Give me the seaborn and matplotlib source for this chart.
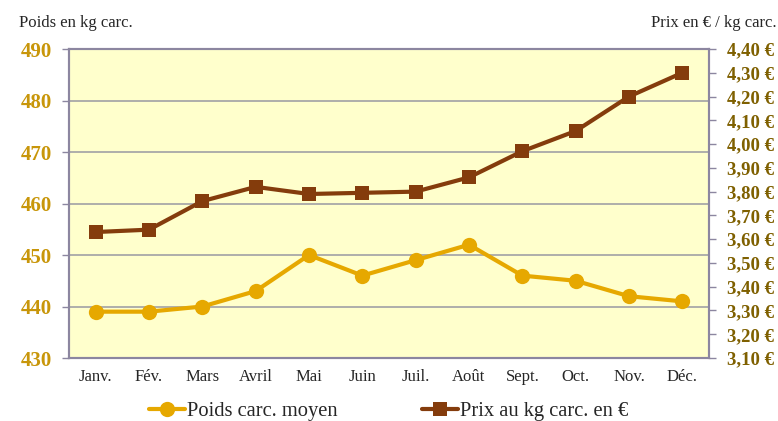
import matplotlib
matplotlib.use("Agg")
import matplotlib.pyplot as plt
import pandas as pd
import seaborn as sns
from matplotlib.ticker import FixedLocator, FuncFormatter, MultipleLocator

# data
MONTHS = ["Janv.", "Fév.", "Mars", "Avril", "Mai", "Juin", "Juil.", "Août",
          "Sept.", "Oct.", "Nov.", "Déc."]
POIDS = [439, 439, 440, 443, 450, 446, 449, 452, 446, 445, 442, 441]
PRIX = [3.63, 3.64, 3.76, 3.82, 3.79, 3.795, 3.80, 3.86, 3.97, 4.055, 4.20, 4.30]

GOLD = "#E6A800"
BROWN = "#843C0C"
GOLD_TXT = "#C8960A"
BROWN_TXT = "#7F6000"
SPINE = "#8C86A0"

df = pd.DataFrame({"x": range(len(MONTHS)), "Poids": POIDS, "Prix": PRIX})

sns.set_style("white")
plt.rcParams["font.family"] = ["Liberation Serif", "DejaVu Serif"]

fig = plt.figure(figsize=(7.78, 4.21), dpi=100)
ax = fig.add_axes([0.0887, 0.1496, 0.8226, 0.734])
ax.set_facecolor("#FFFFCC")
ax2 = ax.twinx()

sns.lineplot(data=df, x="x", y="Poids", ax=ax, color=GOLD, linewidth=3,
             marker="o", markersize=11, markeredgewidth=0,
             label="Poids carc. moyen", legend=False)
sns.lineplot(data=df, x="x", y="Prix", ax=ax2, color=BROWN, linewidth=3,
             marker="s", markersize=10, markeredgewidth=0,
             label="Prix au kg carc. en €", legend=False)

# left axis
ax.set_ylim(430, 490)
ax.yaxis.set_major_locator(MultipleLocator(10))
ax.grid(axis="y", color="#A8A8A8", linewidth=1.3)
ax.set_axisbelow(True)
ax.set_xlim(-0.5, len(MONTHS) - 0.5)
ax.set_xticks(range(len(MONTHS)))
ax.set_xticklabels(MONTHS, fontsize=12)
ax.xaxis.set_minor_locator(FixedLocator([i + 0.5 for i in range(-1, len(MONTHS))]))
ax.tick_params(axis="x", which="major", length=0, pad=8)
ax.tick_params(axis="x", which="minor", direction="inout", length=8,
               color=SPINE, width=1)
ax.tick_params(axis="y", direction="out", length=5, color=SPINE, width=1,
               labelsize=15, labelcolor=GOLD_TXT, pad=7, left=True)
for lab in ax.get_yticklabels():
    lab.set_fontweight("bold")
ax.set_xlabel("")
ax.set_ylabel("")

# right axis
ax2.set_ylim(3.10, 4.40)
ax2.yaxis.set_major_locator(MultipleLocator(0.1))
ax2.yaxis.set_major_formatter(FuncFormatter(lambda v, p: f"{v:.2f} €".replace(".", ",")))
ax2.tick_params(axis="y", direction="out", length=5, color=SPINE, width=1,
                labelsize=13.5, labelcolor=BROWN_TXT, pad=8, right=True)
for lab in ax2.get_yticklabels():
    lab.set_fontweight("bold")
ax2.set_ylabel("")
ax2.grid(False)

for a in (ax, ax2):
    for sp in a.spines.values():
        sp.set_color(SPINE)
        sp.set_linewidth(1.5)

fig.text(0.024, 0.945, "Poids en kg carc.", fontsize=12, ha="left", va="center")
fig.text(0.998, 0.945, "Prix en € / kg carc.", fontsize=12, ha="right", va="center")

h1, l1 = ax.get_legend_handles_labels()
h2, l2 = ax2.get_legend_handles_labels()
fig.legend(h1 + h2, l1 + l2, loc="center", bbox_to_anchor=(0.5, 0.022), ncol=2,
           frameon=False, fontsize=14.8, columnspacing=4.1, handlelength=1.75,
           handletextpad=0.1, markerscale=1.0)

fig.savefig("out.png", dpi=100)
